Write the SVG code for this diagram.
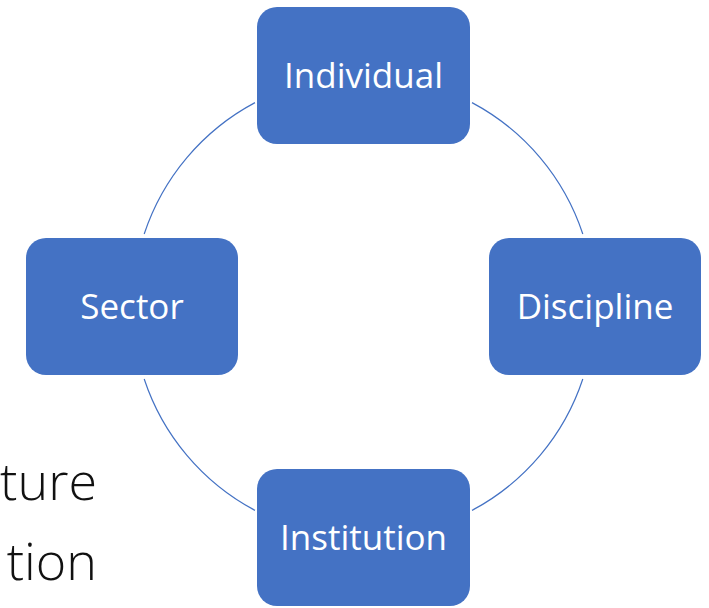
<svg xmlns="http://www.w3.org/2000/svg" width="709" height="608" viewBox="0 0 709 608">
  <style>
    .box { fill: #4472C4; }
    .label { fill: #ffffff; font-family: "Open Sans", "Noto Sans", "Liberation Sans", sans-serif; font-size: 35px; text-anchor: middle; }
    .link { fill: none; stroke: #4472C4; stroke-width: 1.2; }
    .body { fill: #111111; font-family: "Open Sans", "Noto Sans", "Liberation Sans", sans-serif; font-weight: 300; font-size: 52px; text-anchor: end; }
  </style>
  <rect width="709" height="608" fill="#ffffff"/>

  <!-- slide body text running off the left edge -->
  <text class="body" x="97" y="500">ture</text>
  <text class="body" x="97" y="580">tion</text>

  <!-- circular cycle arcs between the nodes (centre 363.5,306.5, r 231) -->
  <g id="connectors">
    <path class="link" d="M472,102.6 A231,231 0 0 1 582.8,234"/>
    <path class="link" d="M582.8,379 A231,231 0 0 1 472,510.4"/>
    <path class="link" d="M255,510.4 A231,231 0 0 1 144.2,379"/>
    <path class="link" d="M144.2,234 A231,231 0 0 1 255,102.6"/>
  </g>

  <g id="individual">
    <rect class="box" x="257" y="7" width="213" height="137" rx="20"/>
    <text class="label" x="363.5" y="88">Individual</text>
  </g>
  <g id="discipline">
    <rect class="box" x="489" y="238" width="212" height="137" rx="20"/>
    <text class="label" x="595" y="319">Discipline</text>
  </g>
  <g id="institution">
    <rect class="box" x="257" y="469" width="213" height="137" rx="20"/>
    <text class="label" x="363.5" y="550">Institution</text>
  </g>
  <g id="sector">
    <rect class="box" x="26" y="238" width="212" height="137" rx="20"/>
    <text class="label" x="132" y="319">Sector</text>
  </g>
</svg>
